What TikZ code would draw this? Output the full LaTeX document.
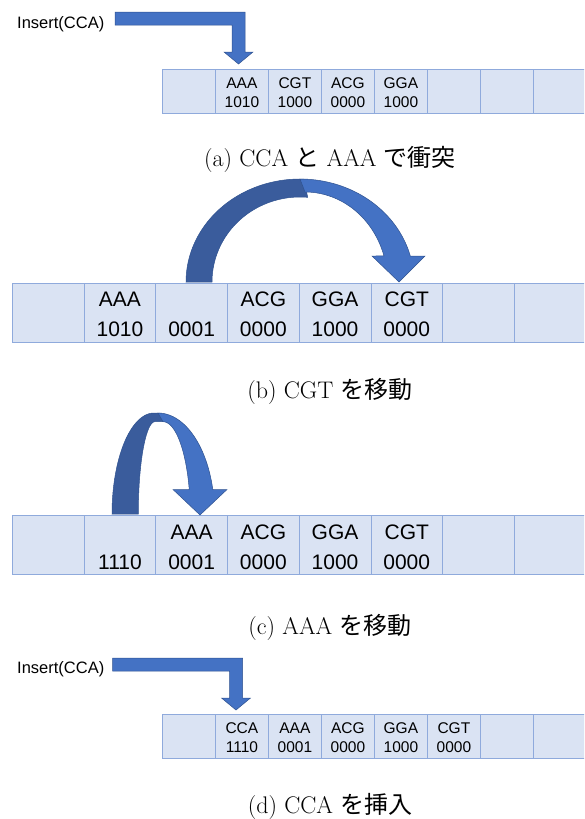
\documentclass[tikz,border=0pt]{standalone}
\usepackage{fontspec}
\newfontfamily\cjk{Noto Sans CJK JP}
\newfontfamily\cellfont{Liberation Sans}
\usetikzlibrary{calc}
\definecolor{cellfill}{HTML}{DAE3F3}
\definecolor{cellline}{HTML}{8FAADC}
\definecolor{arrowfill}{HTML}{4472C4}
\definecolor{arrowdark}{HTML}{3A5C9C}
\definecolor{arrowline}{HTML}{2F528F}
\begin{document}
\begin{tikzpicture}[x=1pt,y=-1pt,
  cellS/.style={draw=cellline, fill=cellfill, line width=0.8pt, minimum width=53pt, minimum height=44pt, inner sep=0pt, anchor=north west},
  cellL/.style={draw=cellline, fill=cellfill, line width=0.8pt, minimum width=71.7pt, minimum height=59pt, inner sep=0pt, anchor=north west},
  txtS/.style={font=\cellfont\fontsize{15.5}{18}\selectfont, inner sep=0pt, anchor=base},
  txtL/.style={font=\cellfont\fontsize{21}{25}\selectfont, inner sep=0pt, anchor=base},
  instxt/.style={font=\cellfont\fontsize{16.5}{19}\selectfont, inner sep=0pt, anchor=base west},
  captxt/.style={font=\fontsize{24}{29}\selectfont, inner sep=0pt, anchor=base},
  barrow/.style={fill=arrowfill, draw=arrowline, line width=0.5pt, line join=miter},
  darrow/.style={fill=arrowdark, draw=arrowline, line width=0.5pt}
]
\useasboundingbox (0,0) rectangle (584,819);
\clip (0,0) rectangle (584,819);

% ---------- (a) ----------
\node[instxt] (insa) at (17,28) {Insert(CCA)};
\path[barrow] (115,12) -- (245,12) -- (245,52) -- (253,52) -- (238.5,64) -- (224,52) -- (232,52) -- (232,25) -- (115,25) -- cycle;
\foreach \i in {0,...,7} {
  \node[cellS] (a\i) at ({162+53*\i},69) {};
}
\node[txtS] (a1u) at ($(a1.north)+(0,19.8)$) {AAA};
\node[txtS] (a1d) at ($(a1.north)+(0,38.8)$) {1010};
\node[txtS] (a2u) at ($(a2.north)+(0,19.8)$) {CGT};
\node[txtS] (a2d) at ($(a2.north)+(0,38.8)$) {1000};
\node[txtS] (a3u) at ($(a3.north)+(0,19.8)$) {ACG};
\node[txtS] (a3d) at ($(a3.north)+(0,38.8)$) {0000};
\node[txtS] (a4u) at ($(a4.north)+(0,19.8)$) {GGA};
\node[txtS] (a4d) at ($(a4.north)+(0,38.8)$) {1000};
\node[captxt] (capa) at (330,166.5) {(a) CCA {\cjk と} AAA {\cjk で衝突}};

% ---------- (b) ----------
\foreach \i in {0,...,7} {
  \node[cellL] (b\i) at ({12+71.7*\i},283) {};
}
\node[txtL] (b1u) at ($(b1.north)+(0,23.8)$) {AAA};
\node[txtL] (b1d) at ($(b1.north)+(0,53.8)$) {1010};
\node[txtL] (b2d) at ($(b2.north)+(0,53.8)$) {0001};
\node[txtL] (b3u) at ($(b3.north)+(0,23.8)$) {ACG};
\node[txtL] (b3d) at ($(b3.north)+(0,53.8)$) {0000};
\node[txtL] (b4u) at ($(b4.north)+(0,23.8)$) {GGA};
\node[txtL] (b4d) at ($(b4.north)+(0,53.8)$) {1000};
\node[txtL] (b5u) at ($(b5.north)+(0,23.8)$) {CGT};
\node[txtL] (b5d) at ($(b5.north)+(0,53.8)$) {0000};
% curved arrow (b)
\path[darrow] plot[domain=180:272,samples=40] ({300+114*cos(\x)},{282+103*sin(\x)})
  -- plot[domain=275:180,samples=40] ({300+88*cos(\x)},{282+85*sin(\x)}) -- cycle;
\path[barrow] plot[domain=270:345.38,samples=40] ({300+114*cos(\x)},{282+103*sin(\x)})
  -- (425,256) -- (399,282) -- (372,256)
  -- plot[domain=343.2:270,samples=40] ({305+82.5*cos(\x)},{282+90*sin(\x)}) -- cycle;
\node[captxt] (capb) at (330,398) {(b) CGT {\cjk を移動}};

% ---------- (c) ----------
\foreach \i in {0,...,7} {
  \node[cellL] (c\i) at ({12+71.7*\i},515) {};
}
\node[txtL] (c1d) at ($(c1.north)+(0,54.3)$) {1110};
\node[txtL] (c2u) at ($(c2.north)+(0,24.3)$) {AAA};
\node[txtL] (c2d) at ($(c2.north)+(0,54.3)$) {0001};
\node[txtL] (c3u) at ($(c3.north)+(0,24.3)$) {ACG};
\node[txtL] (c3d) at ($(c3.north)+(0,54.3)$) {0000};
\node[txtL] (c4u) at ($(c4.north)+(0,24.3)$) {GGA};
\node[txtL] (c4d) at ($(c4.north)+(0,54.3)$) {1000};
\node[txtL] (c5u) at ($(c5.north)+(0,24.3)$) {CGT};
\node[txtL] (c5d) at ($(c5.north)+(0,54.3)$) {0000};
% curved arrow (c)
\path[darrow] plot[domain=180:270,samples=40] ({154+42*cos(\x)},{514+101*sin(\x)})
  -- (160,413) -- (163,421.7) -- (155,421.7)
  -- plot[domain=270:180,samples=40] ({155+16.7*cos(\x)},{514+92.3*sin(\x)}) -- cycle;
\path[barrow] plot[domain=270:345.96,samples=40] ({158+56.5*cos(\x)},{514+101*sin(\x)})
  -- (227,489.5) -- (200,515) -- (173,489.5)
  -- plot[domain=344.61:270,samples=40] ({163+27.2*cos(\x)},{514+92.3*sin(\x)}) -- cycle;
\node[captxt] (capc) at (330,634) {(c) AAA {\cjk を移動}};

% ---------- (d) ----------
\node[instxt] (insd) at (17,673) {Insert(CCA)};
\path[barrow] (112.5,658) -- (242.5,658) -- (242.5,698) -- (250.5,698) -- (236,710) -- (221.5,698) -- (229.5,698) -- (229.5,671) -- (112.5,671) -- cycle;
\foreach \i in {0,...,7} {
  \node[cellS] (d\i) at ({162+53*\i},714) {};
}
\node[txtS] (d1u) at ($(d1.north)+(0,19.8)$) {CCA};
\node[txtS] (d1d) at ($(d1.north)+(0,38.8)$) {1110};
\node[txtS] (d2u) at ($(d2.north)+(0,19.8)$) {AAA};
\node[txtS] (d2d) at ($(d2.north)+(0,38.8)$) {0001};
\node[txtS] (d3u) at ($(d3.north)+(0,19.8)$) {ACG};
\node[txtS] (d3d) at ($(d3.north)+(0,38.8)$) {0000};
\node[txtS] (d4u) at ($(d4.north)+(0,19.8)$) {GGA};
\node[txtS] (d4d) at ($(d4.north)+(0,38.8)$) {1000};
\node[txtS] (d5u) at ($(d5.north)+(0,19.8)$) {CGT};
\node[txtS] (d5d) at ($(d5.north)+(0,38.8)$) {0000};
\node[captxt] (capd) at (330,813.5) {(d) CCA {\cjk を挿入}};
\end{tikzpicture}
\end{document}
